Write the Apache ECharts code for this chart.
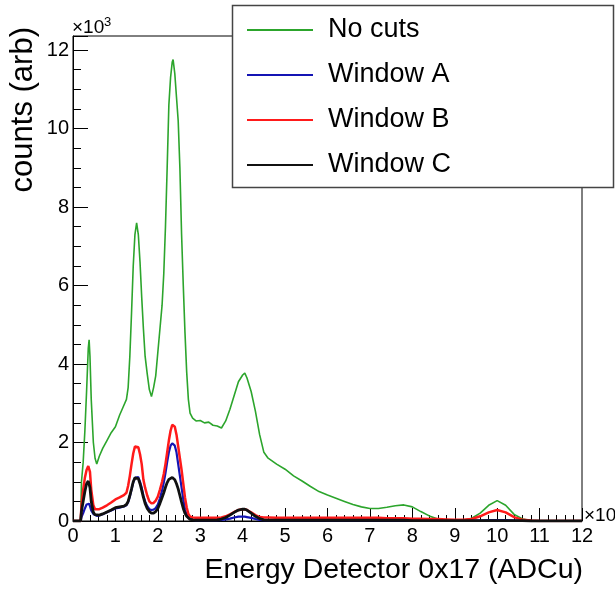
<!DOCTYPE html>
<html>
<head>
<meta charset="utf-8">
<script src="https://cdn.jsdelivr.net/npm/echarts@6/dist/echarts.min.js"></script>
<style>
  html, body { margin: 0; padding: 0; background: #fff; }
  #chart { width: 615px; height: 592px; }
</style>
</head>
<body>
<div id="chart"></div>
<script>
// energy bins, in units of 10^3 ADCu
var energy = [
    0, 0.1, 0.18, 0.2, 0.24, 0.28, 0.32, 0.36, 0.38, 0.4,
    0.43, 0.48, 0.52, 0.56, 0.62, 0.7, 0.8, 0.9, 1.0, 1.1,
    1.2, 1.26, 1.3, 1.34, 1.38, 1.42, 1.46, 1.5, 1.54, 1.58,
    1.62, 1.66, 1.7, 1.75, 1.8, 1.85, 1.9, 1.95, 2.0, 2.05,
    2.1, 2.14, 2.18, 2.22, 2.26, 2.3, 2.34, 2.36, 2.4, 2.44,
    2.48, 2.52, 2.56, 2.6, 2.64, 2.68, 2.72, 2.76, 2.82, 2.9,
    3.0, 3.1, 3.2, 3.3, 3.4, 3.5, 3.6, 3.7, 3.8, 3.9,
    4.0, 4.05, 4.1, 4.2, 4.3, 4.4, 4.5, 4.6, 4.8, 5.0,
    5.2, 5.4, 5.6, 5.8, 6.0, 6.2, 6.4, 6.6, 6.8, 7.0,
    7.2, 7.4, 7.6, 7.8, 8.0, 8.2, 8.4, 8.6, 8.8, 9.0,
    9.2, 9.4, 9.6, 9.8, 10.0, 10.2, 10.4, 10.6, 10.8, 11.0,
    11.5, 12.0
];

// counts, in units of 10^3
var noCuts = [
    0, 0, 0, 1.0, 1.5, 2.3, 3.3, 4.4, 4.62, 4.2,
    3.1, 2.0, 1.6, 1.45, 1.65, 1.85, 2.05, 2.25, 2.4, 2.7,
    2.95, 3.1, 3.4, 4.2, 5.3, 6.5, 7.3, 7.6, 7.3, 6.6,
    5.7, 4.9, 4.2, 3.75, 3.35, 3.17, 3.4, 3.7, 4.3, 4.9,
    5.5, 6.3, 7.5, 9.0, 10.6, 11.3, 11.7, 11.76, 11.4, 10.8,
    10.2, 9.0, 7.3, 6.0, 4.8, 3.8, 3.1, 2.75, 2.62, 2.55,
    2.56, 2.5, 2.52, 2.44, 2.42, 2.37, 2.55, 2.85, 3.2, 3.55,
    3.72, 3.77, 3.65, 3.3, 2.8, 2.2, 1.75, 1.6, 1.45, 1.32,
    1.15, 1.02, 0.88, 0.75, 0.66, 0.58, 0.5, 0.42, 0.36, 0.32,
    0.32, 0.35, 0.39, 0.41, 0.36, 0.24, 0.13, 0.05, 0.01, 0.01,
    0.02, 0.07, 0.2, 0.4, 0.52, 0.4, 0.17, 0.05, 0.01, 0,
    0, 0
];

var windowA = [
    0, 0, 0, 0.1, 0.2, 0.32, 0.42, 0.45, 0.44, 0.38,
    0.27, 0.18, 0.14, 0.13, 0.14, 0.17, 0.22, 0.27, 0.32, 0.34,
    0.37, 0.4, 0.48, 0.62, 0.8, 0.98, 1.1, 1.15, 1.12, 1.0,
    0.85, 0.65, 0.5, 0.38, 0.3, 0.28, 0.29, 0.33, 0.42, 0.58,
    0.78, 0.98, 1.22, 1.5, 1.75, 1.92, 1.98, 1.99, 1.92, 1.75,
    1.45, 1.15, 0.85, 0.55, 0.3, 0.16, 0.08, 0.04, 0.03, 0.02,
    0.02, 0.02, 0.02, 0.02, 0.02, 0.03, 0.04, 0.06, 0.09, 0.11,
    0.11, 0.11, 0.1, 0.08, 0.05, 0.03, 0.02, 0.02, 0.02, 0.02,
    0.02, 0.02, 0.02, 0.02, 0.02, 0.02, 0.02, 0.02, 0.02, 0.02,
    0.02, 0.02, 0.02, 0.02, 0.02, 0.01, 0.01, 0.01, 0.01, 0.01,
    0.01, 0.01, 0.01, 0.02, 0.02, 0.02, 0.01, 0.01, 0, 0,
    0, 0
];

var windowB = [
    0, 0, 0, 0.4, 0.8, 1.1, 1.3, 1.4, 1.41, 1.25,
    0.8, 0.4, 0.3, 0.27, 0.3, 0.34, 0.4, 0.47, 0.55, 0.6,
    0.66, 0.72, 0.9, 1.15, 1.45, 1.72, 1.9, 1.94, 1.88, 1.7,
    1.45, 1.05, 0.85, 0.65, 0.5, 0.45, 0.46, 0.52, 0.62, 0.8,
    1.0, 1.2, 1.45, 1.75, 2.05, 2.3, 2.45, 2.47, 2.4, 2.2,
    1.9, 1.6, 1.3, 0.95, 0.6, 0.35, 0.18, 0.11, 0.09, 0.08,
    0.08, 0.08, 0.08, 0.08, 0.08, 0.09, 0.12, 0.17, 0.23, 0.28,
    0.3, 0.3, 0.28, 0.22, 0.15, 0.1, 0.09, 0.09, 0.08, 0.08,
    0.08, 0.08, 0.08, 0.08, 0.08, 0.08, 0.08, 0.08, 0.08, 0.08,
    0.08, 0.07, 0.07, 0.07, 0.06, 0.06, 0.05, 0.05, 0.04, 0.03,
    0.03, 0.05, 0.12, 0.22, 0.28, 0.22, 0.1, 0.03, 0.01, 0,
    0, 0
];

var windowC = [
    0, 0, 0, 0.25, 0.5, 0.75, 0.95, 1.02, 1.0, 0.85,
    0.5, 0.22, 0.16, 0.14, 0.15, 0.18, 0.23, 0.28, 0.34, 0.36,
    0.38, 0.42, 0.5, 0.65, 0.82, 1.0, 1.1, 1.12, 1.08, 0.95,
    0.78, 0.6, 0.45, 0.32, 0.24, 0.2, 0.2, 0.24, 0.32, 0.45,
    0.6, 0.72, 0.86, 0.98, 1.06, 1.1, 1.11, 1.1, 1.05, 0.95,
    0.82, 0.65, 0.48, 0.32, 0.2, 0.12, 0.07, 0.04, 0.03, 0.02,
    0.02, 0.02, 0.02, 0.02, 0.03, 0.05, 0.09, 0.15, 0.22, 0.28,
    0.3, 0.3, 0.28, 0.2, 0.12, 0.06, 0.03, 0.02, 0.02, 0.02,
    0.02, 0.02, 0.02, 0.02, 0.02, 0.02, 0.02, 0.02, 0.02, 0.02,
    0.02, 0.02, 0.02, 0.02, 0.01, 0.01, 0.01, 0.01, 0.01, 0.01,
    0.01, 0.01, 0.01, 0.01, 0.01, 0.01, 0.01, 0.01, 0, 0,
    0, 0
];

var seriesNames = ['No cuts', 'Window A', 'Window B', 'Window C'];

function pairs(ys) {
    return energy.map(function (x, i) { return [x, ys[i]]; });
}

var myChart = echarts.init(document.getElementById('chart'));
var fontFam = 'Liberation Sans, Arial, sans-serif';

var option = {
    backgroundColor: '#fff',
    animation: false,
    grid: {
        left: 73,
        top: 36,
        width: 509,
        height: 485,
        show: true,
        borderColor: '#000',
        borderWidth: 1,
        backgroundColor: 'transparent'
    },
    legend: {
        orient: 'vertical',
        left: 247,
        top: 15,
        z: 20,
        padding: 0,
        itemGap: 15,
        itemWidth: 66,
        itemHeight: 2,
        icon: 'rect',
        textStyle: {
            fontFamily: fontFam,
            fontSize: 27,
            color: '#000',
            lineHeight: 30,
            padding: [0, 0, 0, 10]
        },
        data: seriesNames
    },
    xAxis: {
        type: 'value',
        min: 0,
        max: 12,
        interval: 1,
        axisLine: { lineStyle: { color: '#000', width: 1 } },
        axisTick: { inside: true, length: 13, lineStyle: { color: '#000' } },
        minorTick: { show: true, splitNumber: 5, length: 6, lineStyle: { color: '#000' } },
        splitLine: { show: false },
        axisLabel: {
            fontFamily: fontFam,
            fontSize: 20,
            color: '#000',
            margin: 5
        }
    },
    yAxis: {
        type: 'value',
        min: 0,
        max: 12.36,
        interval: 2,
        axisLine: { show: true, lineStyle: { color: '#000', width: 1 } },
        axisTick: { inside: true, length: 15, lineStyle: { color: '#000' } },
        minorTick: { show: true, splitNumber: 4, length: 8, lineStyle: { color: '#000' } },
        splitLine: { show: false },
        axisLabel: {
            fontFamily: fontFam,
            fontSize: 20,
            color: '#000',
            margin: 4,
            showMaxLabel: false
        }
    },
    graphic: [
        {
            type: 'rect',
            z: 10,
            shape: { x: 232.5, y: 5.5, width: 381, height: 182 },
            style: { fill: '#fff', stroke: '#444', lineWidth: 1.5 }
        },
        {
            type: 'text',
            x: 23,
            y: 27,
            rotation: Math.PI / 2,
            style: {
                text: 'counts (arb)',
                fontSize: 31,
                fontFamily: fontFam,
                fill: '#000',
                align: 'right',
                verticalAlign: 'middle'
            }
        },
        {
            type: 'text',
            x: 583,
            y: 570,
            style: {
                text: 'Energy Detector 0x17 (ADCu)',
                fontSize: 28.5,
                fontFamily: fontFam,
                fill: '#000',
                align: 'right',
                verticalAlign: 'middle'
            }
        },
        {
            type: 'text',
            x: 72,
            y: 37,
            style: { text: '×10', fontSize: 19, fontFamily: fontFam, fill: '#000', verticalAlign: 'bottom' }
        },
        {
            type: 'text',
            x: 104,
            y: 29,
            style: { text: '3', fontSize: 13, fontFamily: fontFam, fill: '#000', verticalAlign: 'bottom' }
        },
        {
            type: 'text',
            x: 584,
            y: 516,
            style: { text: '×10', fontSize: 19, fontFamily: fontFam, fill: '#000', verticalAlign: 'middle' }
        }
    ],
    series: [
        {
            name: 'No cuts',
            type: 'line',
            showSymbol: false,
            color: '#2ca52c',
            lineStyle: { width: 1.6, color: '#2ca52c' },
            data: pairs(noCuts)
        },
        {
            name: 'Window A',
            type: 'line',
            showSymbol: false,
            color: '#1414b4',
            lineStyle: { width: 2.2, color: '#1414b4' },
            data: pairs(windowA)
        },
        {
            name: 'Window B',
            type: 'line',
            showSymbol: false,
            color: '#ff1a1a',
            lineStyle: { width: 2.5, color: '#ff1a1a' },
            data: pairs(windowB)
        },
        {
            name: 'Window C',
            type: 'line',
            showSymbol: false,
            color: '#111',
            lineStyle: { width: 2.8, color: '#111' },
            data: pairs(windowC)
        }
    ]
};
myChart.setOption(option);
</script>
</body>
</html>
